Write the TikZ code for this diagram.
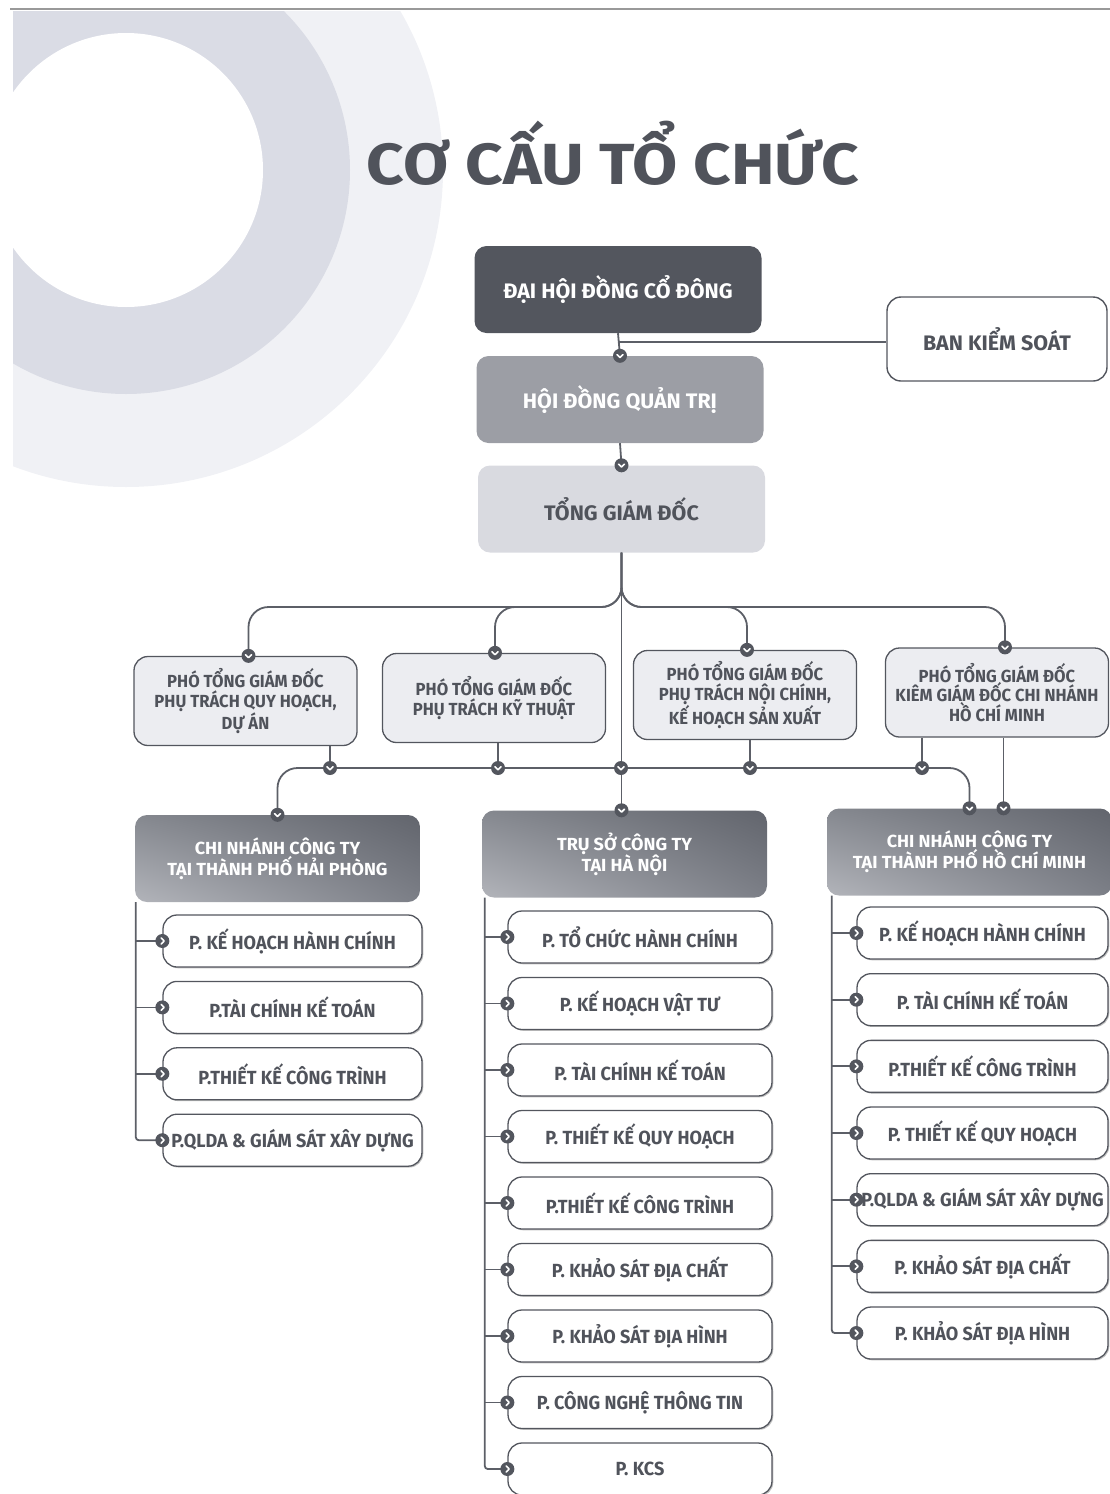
\documentclass[tikz,border=0pt]{standalone}
\usepackage{fontspec}
\setmainfont{Fira Sans}[FakeStretch=0.95]
\newfontfamily\titlefont{Fira Sans}[FakeStretch=1.13]
\newfontfamily\topfont{Fira Sans}[FakeStretch=1.02]
\newfontfamily\hdrfont{Fira Sans}[FakeStretch=1.03]
\usetikzlibrary{calc,shadows,shadings}
\definecolor{dkc}{HTML}{53565E}
\definecolor{lc}{HTML}{5C5F67}
\definecolor{txc}{HTML}{50535B}
\definecolor{hdq}{HTML}{9C9EA5}
\definecolor{tgd}{HTML}{D9DAE0}
\definecolor{ptg}{HTML}{ECEDF1}
\definecolor{ringA}{HTML}{F0F1F5}
\definecolor{ringB}{HTML}{DADCE5}
\definecolor{hUL}{HTML}{85888F}
\definecolor{hUR}{HTML}{62656D}
\definecolor{hLL}{HTML}{B2B4BA}
\definecolor{hLR}{HTML}{7C7F87}
\tikzset{
  conn/.style={draw=lc, line width=1.8pt},
  topbox/.style={rounded corners=12pt, minimum width=287pt, minimum height=87pt, inner sep=0pt,
    font=\topfont\bfseries\fontsize{21}{24}\selectfont},
  ptgbox/.style={rounded corners=14pt, fill=ptg, draw=dkc, line width=1.3pt, minimum width=223pt,
    minimum height=89pt, inner sep=0pt, align=center, text=txc,
    font=\bfseries\fontsize{17.5}{19.5}\selectfont},
  hdrbox/.style={rounded corners=12pt, minimum width=285pt, minimum height=87pt, inner sep=0pt,
    align=center, text=white, upper left=hUL, upper right=hUR, lower left=hLL, lower right=hLR,
    font=\hdrfont\bfseries\fontsize{17.5}{21}\selectfont},
  itembox/.style={rounded corners=14pt, fill=white, draw=dkc, line width=1.3pt, minimum height=52pt,
    inner sep=0pt, text=txc, font=\bfseries\fontsize{19}{22}\selectfont,
    drop shadow={shadow xshift=1.3pt, shadow yshift=-1.3pt, opacity=0.35, fill=black!70}},
  mkd/.pic={\fill[dkc] (0,0) circle[radius=7pt];
    \draw[white, line width=1.6pt, line cap=round, line join=round] (-3,-1.2) -- (0,1.8) -- (3,-1.2);},
  mkr/.pic={\fill[dkc] (0,0) circle[radius=7pt];
    \draw[white, line width=1.6pt, line cap=round, line join=round] (-1.2,-3) -- (1.8,0) -- (-1.2,3);}
}
\begin{document}
\begin{tikzpicture}[x=1pt, y=-1pt]
\useasboundingbox (0,0) rectangle (1110,1494);
\clip (0,0) rectangle (1110,1494);
% background decoration
\begin{scope}
  \clip (13,11) rectangle (1110,1494);
  \fill[ringA] (126,170) circle[radius=317pt];
  \fill[ringB] (126,170) circle[radius=224pt];
  \fill[white] (126,170) circle[radius=137pt];
\end{scope}
\draw[line width=2pt, color=black!40] (10,9) -- (1110,9);

% title
\node[anchor=base, text=txc, font=\titlefont\bfseries\fontsize{58}{60}\selectfont] (title) at (613,184) {CƠ CẤU TỔ CHỨC};

% coordinates
\coordinate (bus1) at (621,607);
\coordinate (bus2) at (621,768);
\coordinate (m1) at (330,768);
\coordinate (m2) at (498,768);
\coordinate (m3) at (750,768);
\coordinate (m4) at (922,768);

% nodes (top)
\node[topbox, fill=dkc, text=white] (dh) at (618,289.5) {ĐẠI HỘI ĐỒNG CỔ ĐÔNG};
\node[topbox, fill=hdq, text=white] (hd) at (620,399.5) {HỘI ĐỒNG QUẢN TRỊ};
\node[topbox, fill=tgd, text=txc] (tg) at (621.5,509) {TỔNG GIÁM ĐỐC};
\node[rounded corners=14pt, fill=white, draw=dkc, line width=1.4pt, minimum width=220pt, minimum height=84pt,
  inner sep=0pt, text=txc, font=\topfont\bfseries\fontsize{21}{24}\selectfont] (bks) at (997,339) {BAN KIỂM SOÁT};

% PTGD
\node[ptgbox] (p1) at (245.5,701) {PHÓ TỔNG GIÁM ĐỐC\\PHỤ TRÁCH QUY HOẠCH,\\DỰ ÁN};
\node[ptgbox] (p2) at (494,698) {PHÓ TỔNG GIÁM ĐỐC\\PHỤ TRÁCH KỸ THUẬT};
\node[ptgbox] (p3) at (745,695) {PHÓ TỔNG GIÁM ĐỐC\\PHỤ TRÁCH NỘI CHÍNH,\\KẾ HOẠCH SẢN XUẤT};
\node[ptgbox] (p4) at (997,692.5) {PHÓ TỔNG GIÁM ĐỐC\\KIÊM GIÁM ĐỐC CHI NHÁNH\\HỒ CHÍ MINH};
\coordinate (t1) at ($(p1.north)+(3,0)$);
\coordinate (t2) at ($(p2.north)+(1,0)$);
\coordinate (t3) at ($(p3.north)+(2,0)$);
\coordinate (t4) at ($(p4.north)+(8,0)$);

% headers
\node[hdrbox] (hp) at (277.5,858.5) {CHI NHÁNH CÔNG TY\\TẠI THÀNH PHỐ HẢI PHÒNG};
\node[hdrbox] (hn) at (624.5,854) {TRỤ SỞ CÔNG TY\\TẠI HÀ NỘI};
\node[hdrbox] (hc) at (969.5,852) {CHI NHÁNH CÔNG TY\\TẠI THÀNH PHỐ HỒ CHÍ MINH};
\coordinate (c2) at ($(hc.north)+(34,0)$);

% items
\foreach \t [count=\i] in {P. KẾ HOẠCH HÀNH CHÍNH, P.TÀI CHÍNH KẾ TOÁN, P.THIẾT KẾ CÔNG TRÌNH, P.QLDA \& GIÁM SÁT XÂY DỰNG}
  \node[itembox, minimum width=259pt] (hp\i) at (292.5,{941+66.4*(\i-1)}) {\t};
\foreach \t [count=\i] in {P. TỔ CHỨC HÀNH CHÍNH, P. KẾ HOẠCH VẬT TƯ, P. TÀI CHÍNH KẾ TOÁN, P. THIẾT KẾ QUY HOẠCH, P.THIẾT KẾ CÔNG TRÌNH, P. KHẢO SÁT ĐỊA CHẤT, P. KHẢO SÁT ĐỊA HÌNH, P. CÔNG NGHỆ THÔNG TIN, P. KCS}
  \node[itembox, minimum width=264pt] (hn\i) at (640,{937+66.5*(\i-1)}) {\t};
\foreach \t [count=\i] in {P. KẾ HOẠCH HÀNH CHÍNH, P. TÀI CHÍNH KẾ TOÁN, P.THIẾT KẾ CÔNG TRÌNH, P. THIẾT KẾ QUY HOẠCH, P.QLDA \& GIÁM SÁT XÂY DỰNG, P. KHẢO SÁT ĐỊA CHẤT, P. KHẢO SÁT ĐỊA HÌNH}
  \node[itembox, minimum width=251pt] (hc\i) at (982.5,{933+66.67*(\i-1)}) {\t};

% connectors (top)
\draw[conn] (dh.south) -- (hd.north);
\draw[conn] ($(dh.south)+(0,9)$) coordinate (j1) -- (j1 -| bks.west);
\draw[conn] (hd.south) -- (tg.north);
\draw[conn] (tg.south) -- (tg.south |- hn.north);
\draw[conn, rounded corners=20pt] (tg.south) |- (t1 |- bus1) -- (t1);
\draw[conn, rounded corners=20pt] (tg.south) |- (t2 |- bus1) -- (t2);
\draw[conn, rounded corners=20pt] (tg.south) |- (t3 |- bus1) -- (t3);
\draw[conn, rounded corners=20pt] (tg.south) |- (t4 |- bus1) -- (t4);
% PTGD to bus
\draw[conn] (m1 |- p1.south) -- (m1);
\draw[conn] (m2 |- p2.south) -- (m2);
\draw[conn] (m3 |- p3.south) -- (m3);
\draw[conn] (m4 |- p4.south) -- (m4);
\draw[conn, rounded corners=20pt] (hp.north) |- (hc.north |- bus2) -- (hc.north);
\draw[conn] (c2 |- p4.south) -- (c2);

% branch lines
\coordinate (hpv) at ($(hp.south west)+(1,0)$);
\coordinate (hnv) at ($(hn.south west)+(3,0)$);
\coordinate (hcv) at ($(hc.south west)+(5,0)$);
\draw[conn, rounded corners=3pt] (hpv) |- (hp4.west);
\draw[conn, rounded corners=3pt] (hnv) |- (hn9.west);
\draw[conn, rounded corners=3pt] (hcv) |- (hc7.west);
\foreach \i in {1,...,3} \draw[conn] (hpv |- hp\i.west) -- (hp\i.west);
\foreach \i in {1,...,8} \draw[conn] (hnv |- hn\i.west) -- (hn\i.west);
\foreach \i in {1,...,6} \draw[conn] (hcv |- hc\i.west) -- (hc\i.west);

% markers
\pic at (hd.north) {mkd};
\pic at (tg.north) {mkd};
\foreach \n in {t1,t2,t3,t4} \pic at (\n) {mkd};
\foreach \n in {m1,m2,bus2,m3,m4} \pic at (\n) {mkd};
\pic at (hp.north) {mkd};
\pic at (tg.south |- hn.north) {mkd};
\pic at (hc.north) {mkd};
\pic at (c2) {mkd};
\foreach \i in {1,...,4} \pic at (hp\i.west) {mkr};
\foreach \i in {1,...,9} \pic at (hn\i.west) {mkr};
\foreach \i in {1,...,7} \pic at (hc\i.west) {mkr};
\end{tikzpicture}
\end{document}
